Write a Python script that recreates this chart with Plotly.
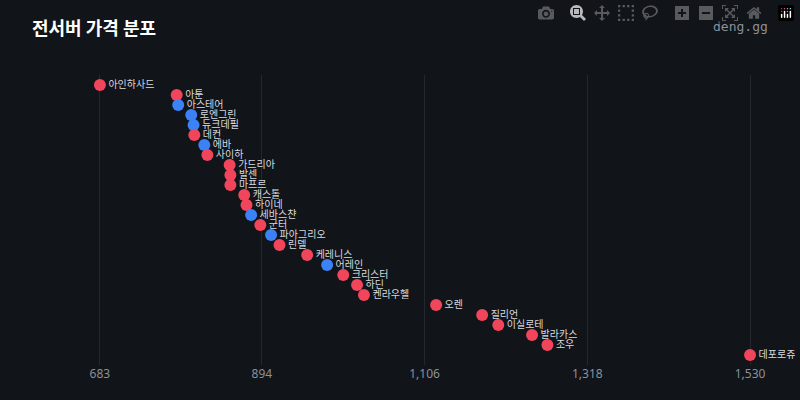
import plotly.graph_objects as go

names = ["아인하사드","아툰","아스테어","로엔그린","듀크데필","데컨","에바","사이하","가드리아","발센","마프르",
         "캐스톨","하이네","세바스챤","군터","파아그리오","린델","케레니스","어레인","크리스터","하딘","켄라우헬",
         "오렌","질리언","이실로테","발라카스","조우","데포로쥬"]
prices = [683,783,785,802,805,806,819,823,852,853,853,871,874,880,892,906,917,953,979,1000,1018,1027,
          1121,1181,1202,1246,1266,1530]
groups = ["r","r","b","b","b","r","b","r","r","r","r","r","r","b","r","b","r","r","b","r","r","r",
          "r","r","r","r","r","r"]
tick_vals = [683,894,1106,1318,1530]
tick_text = ["683","894","1,106","1,318","1,530"]

colors = ["#3b82f6" if g == "b" else "#f0455a" for g in groups]
ypos = list(range(len(names)))

fig = go.Figure(go.Scatter(
    x=prices, y=ypos, mode="markers+text", text=names, textposition="middle right",
    textfont=dict(color="#d8dadf", size=10, family="Noto Sans CJK KR"),
    marker=dict(color=colors, size=12), hoverinfo="skip", cliponaxis=False))

fig.update_layout(
    width=800, height=400, paper_bgcolor="#111419", plot_bgcolor="#111419",
    margin=dict(l=60, r=30, t=75, b=35), showlegend=False,
    xaxis=dict(range=[631, 1556], tickvals=tick_vals, ticktext=tick_text, showgrid=True,
               gridcolor="#23272e", zeroline=False, showline=False,
               tickfont=dict(color="#8b919a", size=12, family="Noto Sans"), ticks=""),
    yaxis=dict(range=[28, -1], visible=False),
)
fig.add_annotation(text="<b>전서버 가격 분포</b>", xref="paper", yref="paper", x=-0.042, y=1.166,
                   xanchor="left", yanchor="middle", showarrow=False,
                   font=dict(color="#ffffff", size=18, family="Noto Sans CJK KR"))
fig.add_annotation(text="deng.gg", xref="paper", yref="paper", x=1.0, y=1.166,
                   xanchor="right", yanchor="middle", showarrow=False,
                   font=dict(color="#8b919a", size=13, family="DejaVu Sans Mono"))
fig.write_html("out.html", post_script="document.body.style.margin='0';document.body.style.background='#111419';")
